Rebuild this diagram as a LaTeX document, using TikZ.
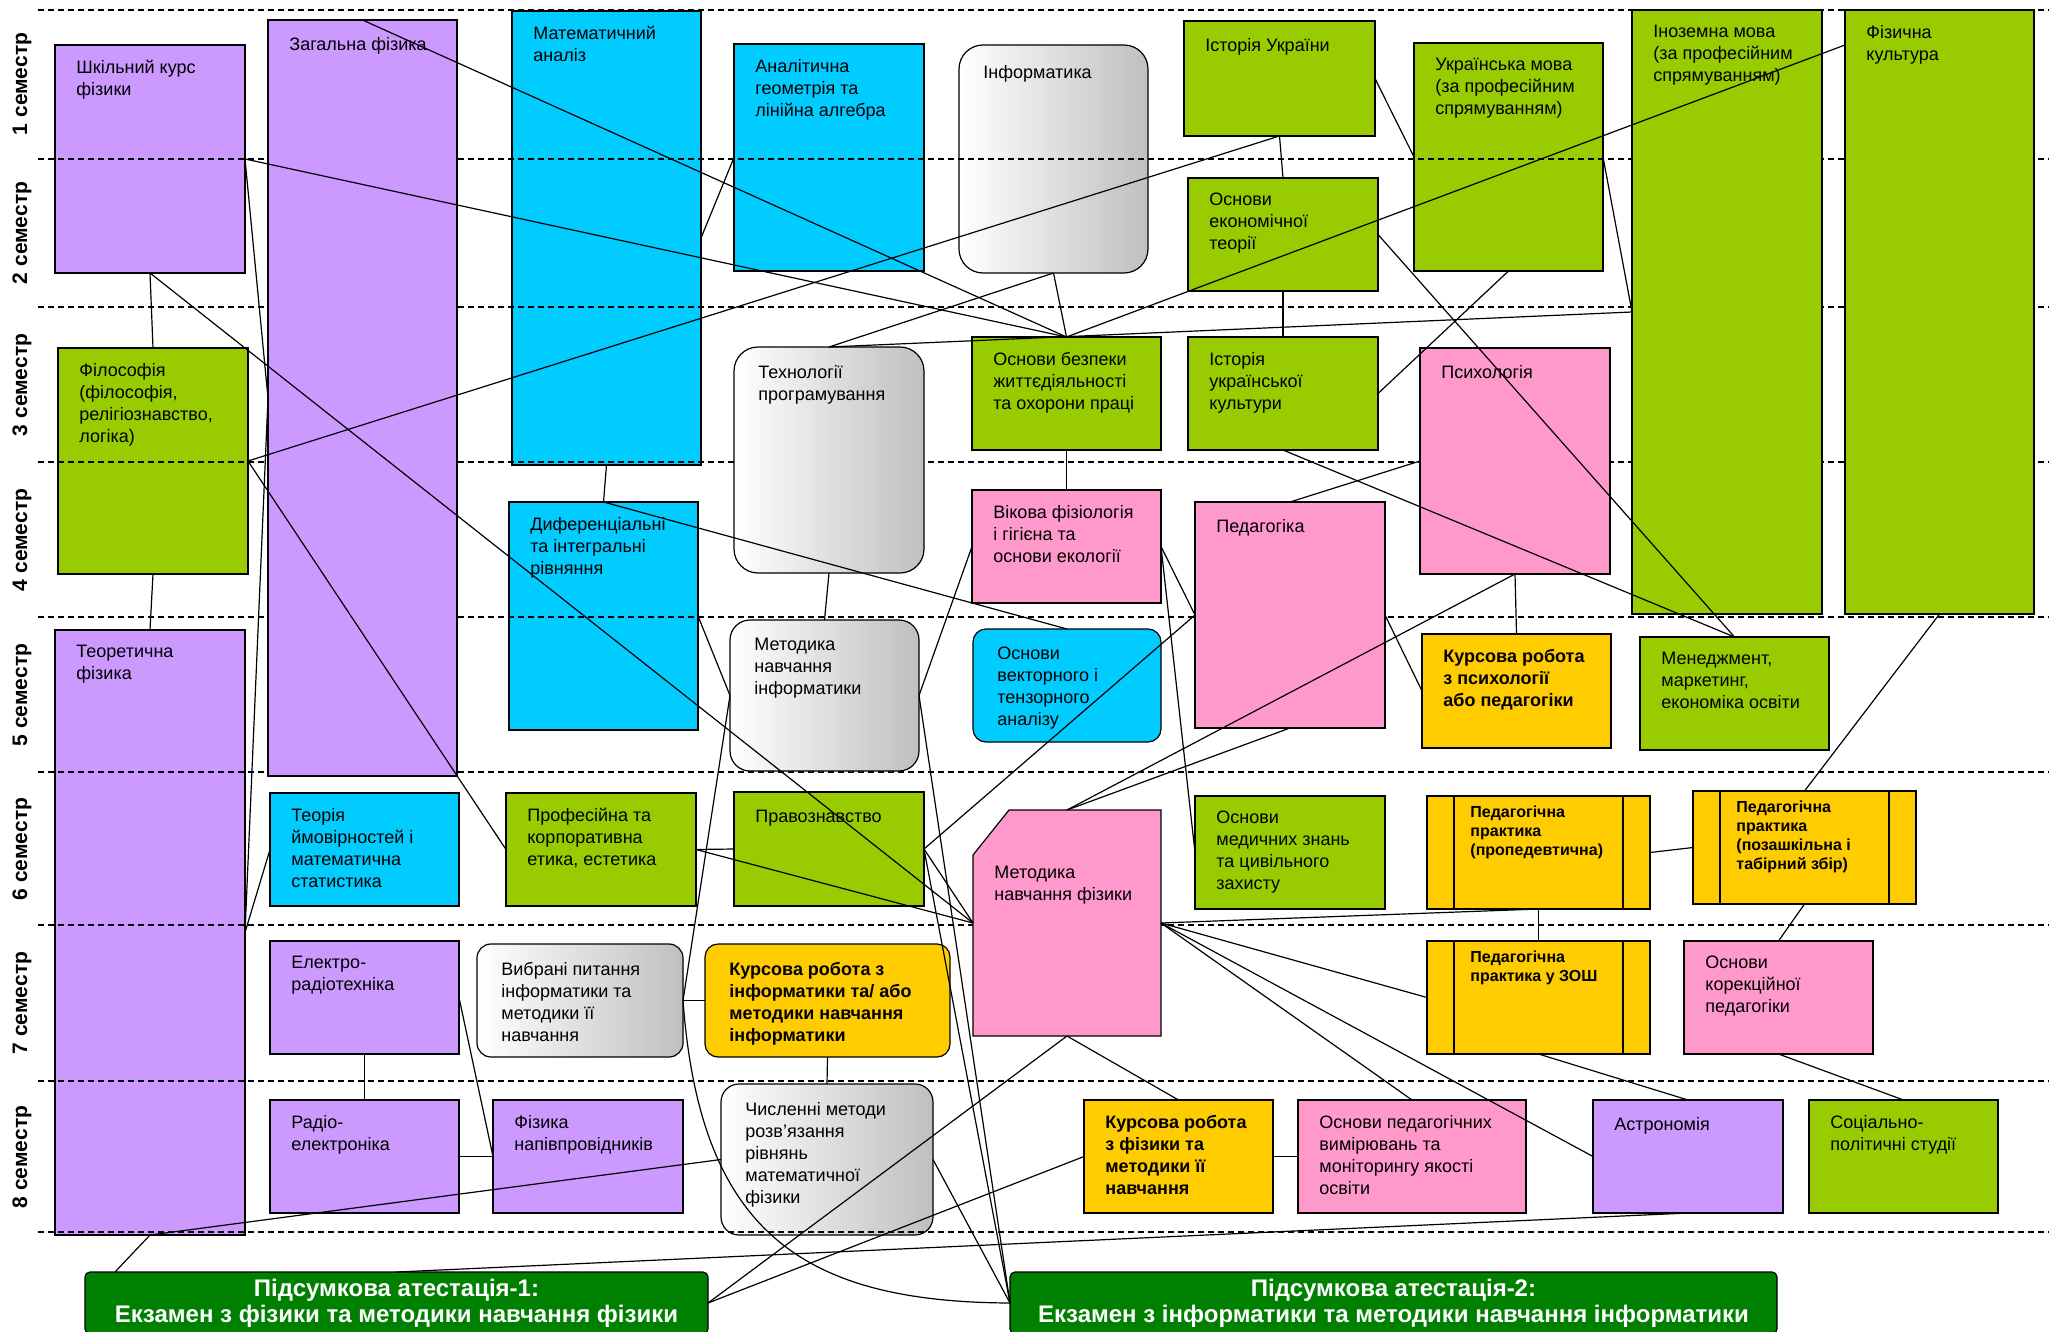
\documentclass[tikz,border=0pt]{standalone}
\usepackage{fontspec}
\setmainfont{Liberation Sans}
\usetikzlibrary{fit}

\definecolor{clilac}{HTML}{CC99FF}
\definecolor{clime}{HTML}{99CC00}
\definecolor{csky}{HTML}{00CCFF}
\definecolor{crose}{HTML}{FF99CC}
\definecolor{camber}{HTML}{FFCC00}
\definecolor{cexam}{HTML}{008000}

\tikzset{
  box/.style={draw, line width=0.6pt, inner sep=0pt, outer sep=0pt},
  physbox/.style={box, fill=clilac},
  mathbox/.style={box, fill=csky},
  humbox/.style={box, fill=clime},
  pedbox/.style={box, fill=crose},
  workbox/.style={box, fill=camber},
  infbox/.style={box, left color=white, right color=black!25, rounded corners=#1},
  infbox/.default=10pt,
  practbox/.style={workbox, path picture={
    \draw[line width=0.6pt] ([xshift=13.5pt]path picture bounding box.north west)
      -- ([xshift=13.5pt]path picture bounding box.south west);
    \draw[line width=0.6pt] ([xshift=-13.5pt]path picture bounding box.north east)
      -- ([xshift=-13.5pt]path picture bounding box.south east);}},
  exambox/.style={box, fill=cexam, rounded corners=2.5pt},
  examtxt/.style={anchor=center, text=white, align=center, inner sep=0pt,
    font=\fontsize{12}{13}\selectfont\bfseries},
  txt/.style={anchor=north west, align=left, inner xsep=10.5pt, inner ysep=7.3pt,
    font=\fontsize{9}{11}\selectfont, execute at begin node={\rule{0pt}{7.7pt}}},
  btxt/.style={txt, font=\fontsize{9}{11}\selectfont\bfseries},
  rtxt/.style={txt, inner xsep=12pt, inner ysep=8.8pt},
  brtxt/.style={rtxt, font=\fontsize{9}{11}\selectfont\bfseries},
  ptxt/.style={txt, inner xsep=21.5pt, inner ysep=4.9pt,
    font=\fontsize{8}{9.5}\selectfont\bfseries, execute at begin node={\rule{0pt}{6.65pt}}},
  semline/.style={dash pattern=on 3pt off 2pt, line width=0.75pt},
  sem/.style={rotate=90, font=\fontsize{10.5}{12}\selectfont\bfseries},
  link/.style={line width=0.6pt}
}

\begin{document}
\begin{tikzpicture}[x=0.5pt, y=-0.5pt]
  \useasboundingbox (0,0) rectangle (2049,1332);
  \fill[white] (0,0) rectangle (2049,1332);

  % boxes under the semester lines
  \node[physbox, fit={(55,45) (245,273)}, label={[txt]north west:Шкільний курс\\фізики}] (school) {};
  \node[mathbox, fit={(512,11) (701,465)}, label={[txt]north west:Математичний\\аналіз}] (matan) {};
  \node[mathbox, fit={(734,44) (924,271)}, label={[txt]north west:Аналітична\\геометрія та\\лінійна алгебра}] (angeom) {};
  \node[infbox=12pt, fit={(959,45) (1148,273)}, label={[rtxt]north west:Інформатика}] (inform) {};
  \node[humbox, fit={(1414,43) (1603,271)}, label={[txt]north west:Українська мова\\(за професійним\\спрямуванням)}] (ukrlang) {};
  \node[humbox, fit={(58,348) (248,574)}, label={[txt]north west:Філософія\\(філософія,\\релігіознавство,\\логіка)}] (philo) {};
  \node[mathbox, fit={(509,502) (698,730)}, label={[txt]north west:Диференціальні\\та інтегральні\\рівняння}] (diffeq) {};
  \node[physbox, fit={(55,630) (245,1235)}, label={[txt]north west:Теоретична\\фізика}] (teorphys) {};
  \node[infbox=9pt, fit={(721,1084) (933,1235)}, label={[rtxt]north west:Численні методи\\розв'язання\\рівнянь\\математичної\\фізики}] (nummeth) {};

  % semesters
  \foreach \y in {10,159,307,462,617,772,925,1081,1232} {
    \draw[semline] (38,\y) -- (2049,\y);
  }
  \foreach \y/\s in {84/1,233/2,385/3,540/4,695/5,849/6,1003/7,1157/8} {
    \node[sem] (sem\s) at (22,\y) {\s\ семестр};
  }

  % boxes over the semester lines
  \node[physbox, fit={(268,20) (457,776)}, label={[txt]north west:Загальна фізика}] (genphys) {};
  \node[humbox, fit={(1632,10) (1822,614)}, label={[txt]north west:Іноземна мова\\(за професійним\\спрямуванням)}] (forlang) {};
  \node[humbox, fit={(1845,10) (2034,614)}, label={[txt]north west:Фізична\\культура}] (physed) {};
  \node[pedbox, fit={(1420,348) (1610,574)}, label={[txt]north west:Психологія}] (psych) {};
  \node[infbox=12pt, fit={(734,347) (924,573)}, label={[rtxt]north west:Технології\\програмування}] (techprog) {};
  \node[pedbox, fit={(1195,502) (1385,728)}, label={[txt]north west:Педагогіка}] (pedag) {};
  \node[box, draw=none, fit={(973,810) (1161,1036)}] (metphys) {};
  \filldraw[fill=crose, line width=0.6pt] (metphys.south west) -- ([yshift=-22.5pt]metphys.north west)
    -- ([xshift=18pt]metphys.north west) -- (metphys.north east) -- (metphys.south east) -- cycle;
  \path (metphys.north west) node[txt, yshift=-20.5pt] {Методика\\навчання фізики};

  % other boxes
  \node[humbox, fit={(1184,21) (1375,136)}, label={[txt]north west:Історія України}] (histua) {};
  \node[humbox, fit={(1188,178) (1378,291)}, label={[txt]north west:Основи\\економічної\\теорії}] (econ) {};
  \node[humbox, fit={(972,337) (1161,450)}, label={[txt]north west:Основи безпеки\\життєдіяльності\\та охорони праці}] (safety) {};
  \node[humbox, fit={(1188,337) (1378,450)}, label={[txt]north west:Історія\\української\\культури}] (culture) {};
  \node[pedbox, fit={(972,490) (1161,603)}, label={[txt]north west:Вікова фізіологія\\і гігієна та\\основи екології}] (agephys) {};
  \node[infbox=10pt, fit={(730,620) (919,771)}, label={[rtxt]north west:Методика\\навчання\\інформатики}] (metinf) {};
  \node[mathbox, rounded corners=6.5pt, fit={(973,629) (1161,742)}, label={[rtxt]north west:Основи\\векторного і\\тензорного\\аналізу}] (vector) {};
  \node[workbox, fit={(1422,634) (1611,748)}, label={[btxt]north west:Курсова робота\\з психології\\або педагогіки}] (kurspsych) {};
  \node[humbox, fit={(1640,637) (1829,750)}, label={[txt]north west:Менеджмент,\\маркетинг,\\економіка освіти}] (manage) {};
  \node[mathbox, fit={(270,793) (459,906)}, label={[txt]north west:Теорія\\ймовірностей і\\математична\\статистика}] (probab) {};
  \node[humbox, fit={(506,793) (696,906)}, label={[txt]north west:Професійна та\\корпоративна\\етика, естетика}] (ethics) {};
  \node[humbox, fit={(734,792) (924,906)}, label={[txt]north west:Правознавство}] (law) {};
  \node[humbox, fit={(1195,796) (1385,909)}, label={[txt]north west:Основи\\медичних знань\\та цивільного\\захисту}] (medic) {};
  \node[practbox, fit={(1427,796) (1650,909)}, label={[ptxt]north west:Педагогічна\\практика\\(пропедевтична)}] (practprop) {};
  \node[practbox, fit={(1693,791) (1916,904)}, label={[ptxt]north west:Педагогічна\\практика\\(позашкільна і\\табірний збір)}] (practcamp) {};
  \node[physbox, fit={(270,941) (459,1054)}, label={[txt]north west:Електро-\\радіотехніка}] (electro) {};
  \node[infbox=7pt, fit={(477,944) (683,1057)}, label={[rtxt]north west:Вибрані питання\\інформатики та\\методики її\\навчання}] (selinf) {};
  \node[workbox, rounded corners=6.5pt, fit={(705,944) (950,1057)}, label={[brtxt]north west:Курсова робота з\\інформатики та/ або\\методики навчання\\інформатики}] (kursinf) {};
  \node[practbox, fit={(1427,941) (1650,1054)}, label={[ptxt]north west:Педагогічна\\практика у ЗОШ}] (practschool) {};
  \node[pedbox, fit={(1684,941) (1873,1054)}, label={[txt]north west:Основи\\корекційної\\педагогіки}] (correct) {};
  \node[physbox, fit={(270,1100) (459,1213)}, label={[txt]north west:Радіо-\\електроніка}] (radio) {};
  \node[physbox, fit={(493,1100) (683,1213)}, label={[txt]north west:Фізика\\напівпровідників}] (semicond) {};
  \node[workbox, fit={(1084,1100) (1273,1213)}, label={[btxt]north west:Курсова робота\\з фізики та\\методики її\\навчання}] (kursphys) {};
  \node[pedbox, fit={(1298,1100) (1526,1213)}, label={[txt]north west:Основи педагогічних\\вимірювань та\\моніторингу якості\\освіти}] (pedmeas) {};
  \node[physbox, fit={(1593,1100) (1783,1213)}, label={[txt]north west:Астрономія}] (astro) {};
  \node[humbox, fit={(1809,1100) (1998,1213)}, label={[txt]north west:Соціально-\\політичні студії}] (social) {};
  \node[exambox, fit={(85,1272) (708,1334)}, label={[examtxt]center:Підсумкова атестація-1:\\Екзамен з фізики та методики навчання фізики}] (att1) {};
  \node[exambox, fit={(1010,1272) (1777,1334)}, label={[examtxt]center:Підсумкова атестація-2:\\Екзамен з інформатики та методики навчання інформатики}] (att2) {};

  % connectors
  \foreach \a/\b in {genphys.north/safety.north, school.east/safety.north, school.east/genphys.west,
      school.south/philo.north, school.south/metphys.west, philo.east/histua.south, philo.east/ethics.west,
      philo.south/teorphys.north, genphys.west/teorphys.east, probab.west/teorphys.east,
      matan.south/diffeq.north, diffeq.north/vector.north, angeom.west/matan.east,
      inform.south/safety.north, techprog.north/inform.south, techprog.north/forlang.west,
      histua.south/econ.north, econ.south/culture.north, histua.east/ukrlang.west,
      ukrlang.east/forlang.west, econ.east/manage.north, ukrlang.south/culture.east,
      culture.south/manage.north, psych.west/pedag.north, psych.south/kurspsych.north,
      psych.south/metphys.north, pedag.east/kurspsych.west, pedag.south/metphys.north,
      agephys.west/metinf.east, metinf.east/att2.west, agephys.east/pedag.west, agephys.east/medic.west,
      pedag.west/law.east, law.east/metphys.west, law.east/att2.west, diffeq.east/metinf.west,
      metinf.west/selinf.east, techprog.south/metinf.north, safety.south/agephys.north,
      ethics.east/metphys.west, ethics.east/law.west, physed.south/practcamp.north,
      practprop.east/practcamp.west, practprop.south/practschool.north, metphys.east/practprop.south,
      practcamp.south/correct.north, metphys.east/practschool.west, metphys.east/pedmeas.north,
      metphys.east/astro.west, practschool.south/astro.north, correct.south/social.north,
      astro.south/att1.north, metphys.south/kursphys.north, metphys.south/att1.east,
      kursphys.west/att1.east, nummeth.east/att2.west, kursphys.east/pedmeas.west,
      selinf.east/kursinf.west, kursinf.south/nummeth.north, nummeth.west/teorphys.south,
      electro.south/radio.north, electro.east/semicond.west, radio.east/semicond.west} {
    \draw[link] (\a) -- (\b);
  }
  \draw[link] (safety.north) -- ([yshift=-17.5pt]physed.north west);
  \draw[link] (teorphys.south) -- ([xshift=15pt]att1.north west);
  \draw[link] (selinf.east) .. controls (700,1230) and (800,1302) .. (att2.west);
\end{tikzpicture}
\end{document}
